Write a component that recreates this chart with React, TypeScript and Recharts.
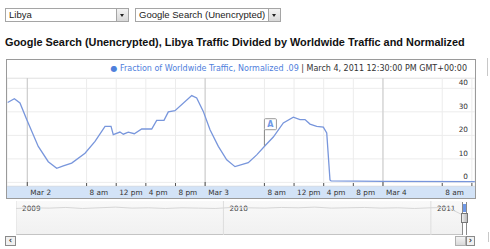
import React from 'react';
import { LineChart, Line, XAxis, YAxis, CartesianGrid, ReferenceLine, ReferenceDot } from 'recharts';

// Hours since Mar 2, 2011 00:00 GMT
const hours = [
  -2.65, -1.75, -0.99, -0.08, 1.48, 2.83, 3.97, 4.86, 5.99, 7.79, 9.14, 10.49, 11.3, 11.6, 12.5,
  12.96, 13.63, 14.44, 15.44, 16.79, 17.46, 18.45, 19.03, 19.93, 22.19, 22.86, 23.75, 24.66,
  25.78, 26.91, 28.03, 29.82, 30.96, 32.08, 33.2, 34.55, 35.9, 36.8, 37.48, 38.15, 39.06, 39.95,
  40.41, 40.85, 41.0, 48.0, 60.4,
];
const fraction = [
  34, 35.6, 33.8, 26.7, 15.3, 8.8, 6, 7, 8.2, 12.4, 17.4, 23.8, 23.8, 20.3, 21.4,
  20.5, 21.4, 20.7, 22.7, 22.7, 26.4, 26.4, 30, 30.5, 36.9, 35.9, 30.2, 22.4,
  15.3, 9.6, 6.7, 8.4, 11.7, 15.6, 19.3, 25.3, 27.7, 26.7, 26.7, 24.8, 23.8, 23.5,
  21, 1, 0.6, 0.4, 0.3,
];
const xTicks = [0, 8, 12, 16, 20, 24, 32, 36, 40, 44, 48, 56, 60];
const xTickLabels = ['Mar 2', '8 am', '12 pm', '4 pm', '8 pm', 'Mar 3', '8 am', '12 pm', '4 pm', '8 pm', 'Mar 4', '8 am', '12 pm'];
const dayTicks = [0, 24, 48];
const yTicks = [0, 10, 20, 30, 40];
const annotationHour = 32;
const annotationValue = 15.6;
const annotationLabel = 'A';

// Overview (range selector) series
const overviewYears = [
  2009.0, 2009.08, 2009.16, 2009.24, 2009.32, 2009.4, 2009.48, 2009.56, 2009.64, 2009.72, 2009.8,
  2009.88, 2009.96, 2010.04, 2010.12, 2010.2, 2010.28, 2010.36, 2010.44, 2010.52, 2010.6, 2010.68,
  2010.76, 2010.84, 2010.92, 2011.0, 2011.08, 2011.15,
];
const overviewValues = [
  0.78, 0.8, 0.79, 0.81, 0.78, 0.8, 0.82, 0.79, 0.8, 0.78, 0.8,
  0.79, 0.78, 0.81, 0.8, 0.79, 0.81, 0.8, 0.82, 0.79, 0.8, 0.81,
  0.79, 0.8, 0.78, 0.8, 0.81, 0.6,
];
const yearTicks = [2009, 2010, 2011];
const quarterTicks = [2009.25, 2009.5, 2009.75, 2010, 2010.25, 2010.5, 2010.75, 2011];

const seriesName = 'Fraction of Worldwide Traffic, Normalized .09';
const legendDate = 'March 4, 2011 12:30:00 PM GMT+00:00';
const title = 'Google Search (Unencrypted), Libya Traffic Divided by Worldwide Traffic and Normalized';
const countryOption = 'Libya';
const productOption = 'Google Search (Unencrypted)';

const data = hours.map((h, i) => ({ h, v: fraction[i] }));
const overviewData = overviewYears.map((t, i) => ({ t, v: overviewValues[i] }));

const FONT = '"DejaVu Sans", Verdana, sans-serif';
const LINE = '#7896dc';

const XTick = (props: any) => {
  const { x, y, payload, index } = props;
  const isDay = dayTicks.includes(payload.value);
  return (
    <g>
      <line x1={x} x2={x} y1={y - (isDay ? 4 : 3)} y2={y} stroke="#555" strokeWidth={1} />
      <text x={x + 3} y={y + 9} fontSize={7.3} fontFamily={FONT} fill="#333" textAnchor="start">
        {xTickLabels[index] ?? ''}
      </text>
    </g>
  );
};

const YTick = (props: any) => {
  const { x, y, payload } = props;
  return (
    <text x={x - 7} y={y - 3} fontSize={7.3} fontFamily={FONT} fill="#333" textAnchor="end">
      {payload.value}
    </text>
  );
};

const AnnotationShape = (props: any) => {
  const { cx, cy } = props;
  if (cx == null || cy == null) return null;
  return (
    <g>
      <line x1={cx} x2={cx} y1={cy} y2={cy - 16} stroke="#888" strokeWidth={1} />
      <rect x={cx} y={cy - 27} width={12} height={11} fill="#fff" stroke="#999" strokeWidth={1} rx={1} />
      <text x={cx + 6} y={cy - 18.5} fontSize={8} fontWeight="bold" fontFamily={FONT} fill="#6f98e6" textAnchor="middle">
        {annotationLabel}
      </text>
    </g>
  );
};

const YearLabel = (props: any) => {
  const { viewBox, value } = props;
  if (!viewBox) return null;
  return (
    <text x={viewBox.x + 6} y={viewBox.y + 10} fontSize={7.3} fontFamily={FONT} fill="#444">
      {value}
    </text>
  );
};

const Select = ({ left, width, text }: { left: number; width: number; text: string }) => (
  <div
    style={{
      position: 'absolute', left, top: 8, width, height: 14, boxSizing: 'border-box',
      border: '1px solid #a5a5a5', background: '#fff',
    }}
  >
    <div style={{ position: 'absolute', left: 3, top: 0, lineHeight: '12px', fontSize: 9.5, fontFamily: '"Liberation Sans", Arial, sans-serif', color: '#222', whiteSpace: 'nowrap' }}>
      {text}
    </div>
    <div
      style={{
        position: 'absolute', right: 0, top: 0, width: 12, height: 12, boxSizing: 'border-box',
        background: 'linear-gradient(#f3f3f3, #d8d8d8)', borderLeft: '1px solid #a5a5a5',
      }}
    >
      <div style={{ position: 'absolute', left: 3, top: 5, width: 0, height: 0, borderLeft: '2.5px solid transparent', borderRight: '2.5px solid transparent', borderTop: '3px solid #222' }} />
    </div>
  </div>
);

export default function App() {
  return (
    <div style={{ position: 'absolute', left: 0, top: 0, width: 490, height: 249, background: '#fff', overflow: 'hidden' }}>
      <Select left={5} width={124} text={countryOption} />
      <Select left={135} width={146} text={productOption} />
      <div style={{ position: 'absolute', left: 5, top: 36, fontSize: 10.9, fontWeight: 'bold', fontFamily: '"Liberation Sans", Arial, sans-serif', color: '#111', whiteSpace: 'nowrap' }}>
        {title}
      </div>

      {/* main chart frame */}
      <div style={{ position: 'absolute', left: 6, top: 59, width: 470, height: 140, boxSizing: 'border-box', border: '1px solid #9a9a9a' }} />
      <div style={{ position: 'absolute', left: 7, top: 78, width: 468, height: 1, background: '#e4e4e4' }} />
      <div style={{ position: 'absolute', left: 7, top: 186, width: 468, height: 12, background: '#d3e3f7', borderTop: '1px solid #bcd0ea', boxSizing: 'border-box' }} />
      <div style={{ position: 'absolute', left: 7, top: 60, width: 460, height: 18, lineHeight: '18px', textAlign: 'right', fontSize: 8, fontFamily: FONT, whiteSpace: 'nowrap' }}>
        <span style={{ color: '#4f80dc' }}>{'\u25CF '}{seriesName}</span>
        <span style={{ color: '#333' }}>{' | '}{legendDate}</span>
      </div>
      <div style={{ position: 'absolute', left: 7, top: 60, width: 468, height: 138, overflow: 'hidden' }}>
        <LineChart width={468} height={138} data={data} margin={{ top: 18, right: 0, bottom: 0, left: 0 }} style={{ overflow: 'hidden' }}>
          <CartesianGrid stroke="#ececec" strokeWidth={1} />
          <XAxis
            type="number" dataKey="h" domain={[-2.74, 60.42]} ticks={xTicks} allowDataOverflow interval={0}
            height={12} tickSize={0} tickMargin={0} axisLine={false} tickLine={false} tick={<XTick />}
          />
          <YAxis
            orientation="right" mirror width={30} domain={[-1.54, 44.4]} ticks={yTicks} allowDataOverflow interval={0}
            tickSize={0} tickMargin={0} axisLine={false} tickLine={false} tick={<YTick />}
          />
          {dayTicks.map((d) => (
            <ReferenceLine key={d} x={d} stroke="#c9c9c9" strokeWidth={1} />
          ))}
          <Line type="linear" dataKey="v" stroke={LINE} strokeWidth={1.3} dot={false} isAnimationActive={false} />
          <ReferenceDot x={annotationHour} y={annotationValue} shape={<AnnotationShape />} />
        </LineChart>
      </div>

      {/* overview / range selector */}
      <div style={{ position: 'absolute', left: 16, top: 201, width: 446, height: 34, background: 'linear-gradient(#f9f9f9, #f1f1f1)', borderBottom: '1px solid #c4c4c4', boxSizing: 'border-box' }} />
      <div style={{ position: 'absolute', left: 16, top: 201 }}>
        <LineChart width={446} height={34} data={overviewData} margin={{ top: 0, right: 0, bottom: 0, left: 0 }}>
          <XAxis
            type="number" dataKey="t" domain={[2009, 2011.15]} ticks={quarterTicks} interval={0} allowDataOverflow
            mirror height={0} axisLine={false} tick={false} tickSize={3} tickLine={{ stroke: '#b0b0b0' }}
          />
          <YAxis hide domain={[0, 1]} />
          {yearTicks.map((y) => (
            <ReferenceLine key={y} x={y} stroke="#dedede" strokeWidth={1} label={<YearLabel value={y} />} />
          ))}
          <Line type="linear" dataKey="v" stroke="#d6d6d6" strokeWidth={1} dot={false} isAnimationActive={false} />
        </LineChart>
      </div>
      {/* range handle */}
      <div style={{ position: 'absolute', left: 462, top: 202, width: 5, height: 33, boxSizing: 'border-box', borderLeft: '1px solid #8a8a8a', borderRight: '1px solid #8a8a8a', background: '#fff' }} />
      <div style={{ position: 'absolute', left: 463, top: 204, width: 3, height: 8, background: '#6f98e6' }} />
      <div style={{ position: 'absolute', left: 461, top: 213, width: 7, height: 10, boxSizing: 'border-box', border: '1px solid #777', background: 'linear-gradient(90deg,#eee,#bbb)' }} />

      {/* scrollbar */}
      <div style={{ position: 'absolute', left: 5, top: 236, width: 11, height: 10, boxSizing: 'border-box', border: '1px solid #8a8a8a', background: '#f0f0f0', fontSize: 8, lineHeight: '8px', textAlign: 'center', fontFamily: FONT, fontWeight: 'bold', color: '#333' }}>‹</div>
      <div style={{ position: 'absolute', left: 455, top: 236, width: 11, height: 10, boxSizing: 'border-box', border: '1px solid #b0b0b0', background: 'linear-gradient(#f4f4f4,#d9d9d9)' }} />
      <div style={{ position: 'absolute', left: 466, top: 236, width: 9, height: 10, boxSizing: 'border-box', border: '1px solid #8a8a8a', background: '#f0f0f0', fontSize: 8, lineHeight: '8px', textAlign: 'center', fontFamily: FONT, fontWeight: 'bold', color: '#333' }}>›</div>

      {/* cropped fragments at right edge */}
      <div style={{ position: 'absolute', left: 487, top: 58, width: 1, height: 18, background: '#c8c8c8' }} />
      <div style={{ position: 'absolute', left: 488, top: 232, width: 1, height: 10, background: '#c8c8c8' }} />
    </div>
  );
}
